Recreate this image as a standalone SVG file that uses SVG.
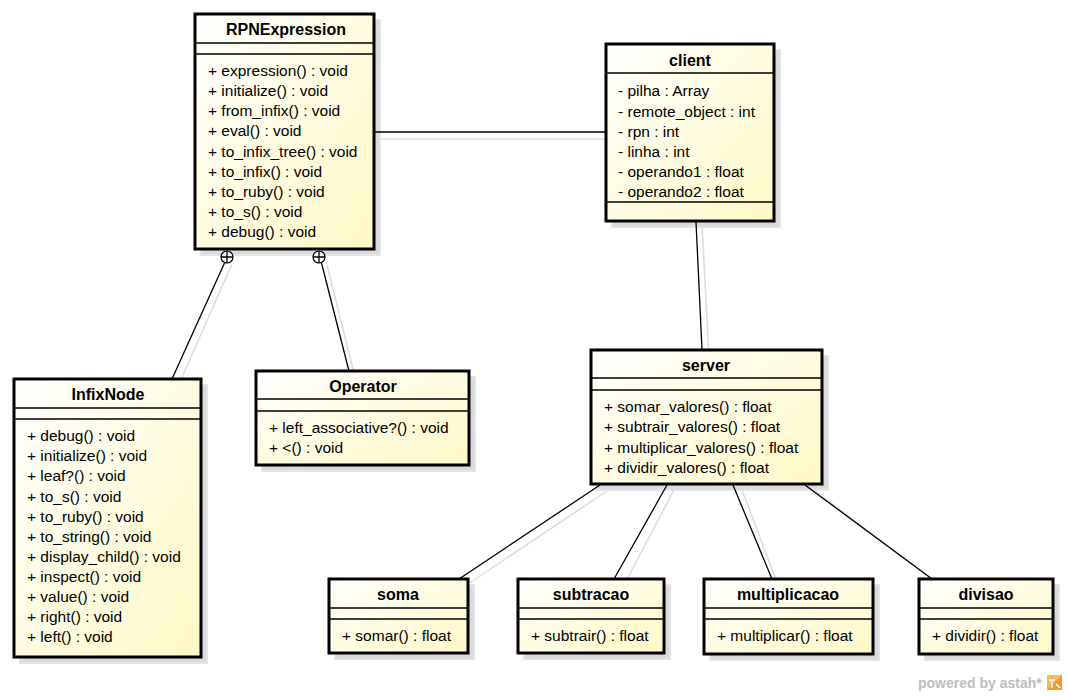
<svg xmlns="http://www.w3.org/2000/svg" width="1068" height="696" viewBox="0 0 1068 696">
  <defs>
    <linearGradient id="classFill" x1="0" y1="0" x2="1" y2="1">
      <stop offset="0" stop-color="#FFFFFF"/>
      <stop offset="1" stop-color="#FFF9C6"/>
    </linearGradient>
    <style>
      .shadow { fill: #DADADA; stroke: #E4E4E4; stroke-width: 2; }
      .box { fill: url(#classFill); stroke: #000; stroke-width: 3; }
      .sep { stroke: #000; stroke-width: 1.4; }
      .name { font-family: "Liberation Sans", Arial, sans-serif; font-size: 16px; font-weight: bold; fill: #000; text-anchor: middle; }
      .member { font-family: "Liberation Sans", Arial, sans-serif; font-size: 15.5px; fill: #000; }
      .link { stroke: #000; stroke-width: 1.3; fill: none; }
      .linkShadow { stroke: #DCDCDC; stroke-width: 1.5; fill: none; }
      .comp { fill: #fff; stroke: #000; stroke-width: 1.2; }
      .brand { font-family: "Liberation Sans", Arial, sans-serif; font-size: 14px; font-weight: bold; fill: #BEBEBE; }
    </style>
  </defs>

  <rect width="1068" height="696" fill="#FFFFFF"/>

  <!-- drop shadows of the classes -->
  <g id="shadows">
    <rect class="shadow" x="201" y="20" width="179" height="235"/>
    <rect class="shadow" x="612" y="50" width="168" height="177"/>
    <rect class="shadow" x="20" y="385" width="187" height="278"/>
    <rect class="shadow" x="262" y="377" width="213" height="94"/>
    <rect class="shadow" x="597" y="356" width="231" height="134"/>
    <rect class="shadow" x="335" y="585" width="139" height="74"/>
    <rect class="shadow" x="524" y="585" width="146" height="74"/>
    <rect class="shadow" x="710" y="585" width="169" height="75"/>
    <rect class="shadow" x="925" y="585" width="134" height="75"/>
  </g>

  <!-- associations and compositions -->
  <g id="connectors">
    <line class="linkShadow" x1="381" y1="139" x2="612" y2="139"/>
    <line class="linkShadow" x1="232" y1="264" x2="179" y2="384"/>
    <line class="linkShadow" x1="327" y1="265" x2="355" y2="377"/>
    <line class="linkShadow" x1="702" y1="224" x2="709" y2="357"/>
    <line class="linkShadow" x1="607" y1="491" x2="468" y2="584"/>
    <line class="linkShadow" x1="674" y1="490" x2="624" y2="585"/>
    <line class="linkShadow" x1="742" y1="490" x2="778" y2="585"/>
    <line class="linkShadow" x1="815" y1="491" x2="940" y2="585"/>

    <line class="link" x1="375" y1="132" x2="606" y2="132"/>
    <line class="link" x1="224.5" y1="263" x2="172" y2="379"/>
    <line class="link" x1="321.5" y1="263" x2="349" y2="371"/>
    <line class="link" x1="696" y1="222" x2="702" y2="350"/>
    <line class="link" x1="600" y1="485" x2="459" y2="579"/>
    <line class="link" x1="667" y1="485" x2="614" y2="579"/>
    <line class="link" x1="733" y1="485" x2="772" y2="579"/>
    <line class="link" x1="805" y1="485" x2="932" y2="579"/>

    <!-- nesting markers on RPNExpression -->
    <circle class="comp" cx="227" cy="257" r="6"/>
    <path class="link" d="M221 257 H233 M227 251 V263"/>
    <circle class="comp" cx="319" cy="257" r="6"/>
    <path class="link" d="M313 257 H325 M319 251 V263"/>
  </g>

  <g id="RPNExpression">
    <rect class="box" x="195" y="14" width="179" height="235"/>
    <line class="sep" x1="195" y1="43" x2="374" y2="43"/>
    <line class="sep" x1="195" y1="54" x2="374" y2="54"/>
    <text class="name" x="286" y="35">RPNExpression</text>
    <text class="member" x="208" y="76">+ expression() : void</text>
    <text class="member" x="208" y="96">+ initialize() : void</text>
    <text class="member" x="208" y="116">+ from_infix() : void</text>
    <text class="member" x="208" y="136">+ eval() : void</text>
    <text class="member" x="208" y="157">+ to_infix_tree() : void</text>
    <text class="member" x="208" y="177">+ to_infix() : void</text>
    <text class="member" x="208" y="197">+ to_ruby() : void</text>
    <text class="member" x="208" y="217">+ to_s() : void</text>
    <text class="member" x="208" y="237">+ debug() : void</text>
  </g>

  <g id="client">
    <rect class="box" x="606" y="44" width="168" height="177"/>
    <line class="sep" x1="606" y1="73" x2="774" y2="73"/>
    <line class="sep" x1="606" y1="202" x2="774" y2="202"/>
    <text class="name" x="690" y="66">client</text>
    <text class="member" x="618" y="96">- pilha : Array</text>
    <text class="member" x="618" y="117">- remote_object : int</text>
    <text class="member" x="618" y="137">- rpn : int</text>
    <text class="member" x="618" y="157">- linha : int</text>
    <text class="member" x="618" y="177">- operando1 : float</text>
    <text class="member" x="618" y="197">- operando2 : float</text>
  </g>

  <g id="InfixNode">
    <rect class="box" x="14" y="379" width="187" height="278"/>
    <line class="sep" x1="14" y1="408" x2="201" y2="408"/>
    <line class="sep" x1="14" y1="419" x2="201" y2="419"/>
    <text class="name" x="108" y="400">InfixNode</text>
    <text class="member" x="27" y="441">+ debug() : void</text>
    <text class="member" x="27" y="461">+ initialize() : void</text>
    <text class="member" x="27" y="481">+ leaf?() : void</text>
    <text class="member" x="27" y="502">+ to_s() : void</text>
    <text class="member" x="27" y="522">+ to_ruby() : void</text>
    <text class="member" x="27" y="542">+ to_string() : void</text>
    <text class="member" x="27" y="562">+ display_child() : void</text>
    <text class="member" x="27" y="582">+ inspect() : void</text>
    <text class="member" x="27" y="602">+ value() : void</text>
    <text class="member" x="27" y="622">+ right() : void</text>
    <text class="member" x="27" y="642">+ left() : void</text>
  </g>

  <g id="Operator">
    <rect class="box" x="256" y="371" width="213" height="94"/>
    <line class="sep" x1="256" y1="399" x2="469" y2="399"/>
    <line class="sep" x1="256" y1="411" x2="469" y2="411"/>
    <text class="name" x="363" y="392">Operator</text>
    <text class="member" x="269" y="433">+ left_associative?() : void</text>
    <text class="member" x="269" y="453">+ &lt;() : void</text>
  </g>

  <g id="server">
    <rect class="box" x="591" y="350" width="231" height="134"/>
    <line class="sep" x1="591" y1="378" x2="822" y2="378"/>
    <line class="sep" x1="591" y1="390" x2="822" y2="390"/>
    <text class="name" x="706" y="371">server</text>
    <text class="member" x="604" y="412">+ somar_valores() : float</text>
    <text class="member" x="604" y="432">+ subtrair_valores() : float</text>
    <text class="member" x="604" y="453">+ multiplicar_valores() : float</text>
    <text class="member" x="604" y="473">+ dividir_valores() : float</text>
  </g>

  <g id="soma">
    <rect class="box" x="329" y="579" width="139" height="74"/>
    <line class="sep" x1="329" y1="608" x2="468" y2="608"/>
    <line class="sep" x1="329" y1="619" x2="468" y2="619"/>
    <text class="name" x="398" y="600">soma</text>
    <text class="member" x="342" y="641">+ somar() : float</text>
  </g>

  <g id="subtracao">
    <rect class="box" x="518" y="579" width="146" height="74"/>
    <line class="sep" x1="518" y1="608" x2="664" y2="608"/>
    <line class="sep" x1="518" y1="619" x2="664" y2="619"/>
    <text class="name" x="591" y="600">subtracao</text>
    <text class="member" x="531" y="641">+ subtrair() : float</text>
  </g>

  <g id="multiplicacao">
    <rect class="box" x="704" y="579" width="169" height="75"/>
    <line class="sep" x1="704" y1="608" x2="873" y2="608"/>
    <line class="sep" x1="704" y1="619" x2="873" y2="619"/>
    <text class="name" x="788" y="600">multiplicacao</text>
    <text class="member" x="717" y="641">+ multiplicar() : float</text>
  </g>

  <g id="divisao">
    <rect class="box" x="919" y="579" width="134" height="75"/>
    <line class="sep" x1="919" y1="608" x2="1053" y2="608"/>
    <line class="sep" x1="919" y1="619" x2="1053" y2="619"/>
    <text class="name" x="986" y="600">divisao</text>
    <text class="member" x="932" y="641">+ dividir() : float</text>
  </g>

  <!-- tool credit in the corner -->
  <g id="credit">
    <text class="brand" x="918" y="688">powered by astah*</text>
    <rect x="1047" y="675" width="15" height="15" fill="#F6B756"/>
    <path d="M1047 690 L1062 675 L1062 690 Z" fill="#EE9A2E"/>
    <path d="M1049 680 H1055 M1052 680 V688 M1056 684 L1060 688" stroke="#FFFFFF" stroke-width="1.5" fill="none"/>
  </g>
</svg>
